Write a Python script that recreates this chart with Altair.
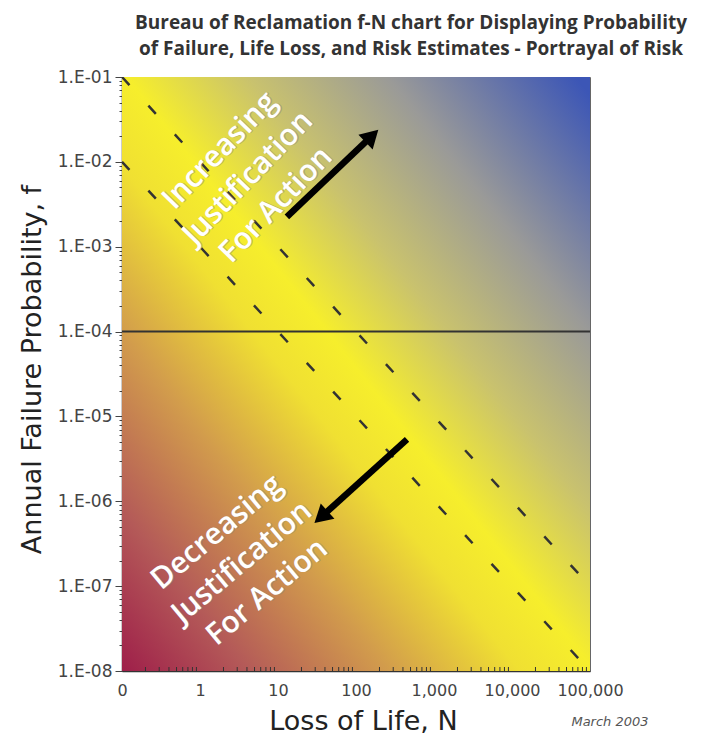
import altair as alt
import pandas as pd

# ---- data ----
x_major = [0.1, 1, 10, 100, 1000, 10000, 100000]
x_minor = [m * 10.0 ** k for k in range(-1, 5) for m in range(2, 10)]
y_ticks = [float(f"{m}e{k}") for k in range(-8, -1) for m in range(1, 10)] + [1e-1]

# f-N guideline lines (f * N = constant)
dash_N = [0.1, 100000]
dash_hi_f = [1e-1, 1e-7]
dash_lo_f = [1e-2, 1e-8]
limit_f = 1e-4

# arrows: tail -> head
arrow_up_N = [13.0, 160.0]
arrow_up_f = [2.25e-3, 2.02e-2]
arrow_dn_N = [451.0, 35.6]
arrow_dn_f = [5.37e-6, 6.5e-7]

label_up = ["Increasing", "Justification", "For Action"]
label_dn = ["Decreasing", "Justification", "For Action"]
label_up_pos = (1.80, 1.35e-2)
label_dn_pos = (1.65, 4.3e-7)

W, H = 468, 594
xs = alt.Scale(type="log", domain=[0.1, 100000], nice=False)
ys = alt.Scale(type="log", domain=[1e-8, 1e-1], nice=False)

is_decade = "abs(log(datum.value)/LN10 - round(log(datum.value)/LN10)) < 0.01"

x_axis = alt.Axis(
    values=x_major,
    labelExpr="datum.value < 0.5 ? '0' : format(datum.value, ',')",
    tickSize=0, domainColor="#333", domainWidth=1.5,
    labelFont="DejaVu Sans", labelFontSize=16, labelColor="#444",
    labelPadding=11, grid=False, labelFlush=False,
    title="Loss of Life, N", titleFont="DejaVu Sans", titleFontSize=27,
    titleFontWeight="normal", titleColor="#222",
    titleX=241, titleY=50, titleBaseline="middle", titleAlign="center",
)
y_axis = alt.Axis(
    values=y_ticks,
    labelExpr=f"{is_decade} ? '1.E-0' + (-round(log(datum.value)/LN10)) : ''",
    tickSize={"condition": {"test": is_decade, "value": 7}, "value": 3},
    tickColor="#444", domainColor="#333", domainWidth=1.5,
    labelFont="DejaVu Sans", labelFontSize=17, labelColor="#444",
    labelPadding=3, grid=False, labelOverlap=False, labelFlush=False,
    title="Annual Failure Probability, f", titleFont="DejaVu Sans", titleFontSize=27,
    titleFontWeight="normal", titleColor="#222",
    titleX=-90, titleY=292, titleBaseline="middle", titleAlign="center", titleAngle=270,
)

X = alt.X("N:Q", scale=xs, axis=x_axis)
Y = alt.Y("f:Q", scale=ys, axis=y_axis)

bg_df = pd.DataFrame({"N": [0.1], "N2": [100000], "f": [1e-8], "f2": [1e-1]})
gradient = alt.Gradient(
    gradient="linear", x1=0, y1=1.03, x2=1, y2=0.03,
    stops=[
        alt.GradientStop(color="#9c1848", offset=0.0),
        alt.GradientStop(color="#b45a58", offset=0.15),
        alt.GradientStop(color="#d29c4c", offset=0.3),
        alt.GradientStop(color="#f0e032", offset=0.44),
        alt.GradientStop(color="#f6ee2c", offset=0.52),
        alt.GradientStop(color="#c9c26e", offset=0.65),
        alt.GradientStop(color="#9a9a98", offset=0.8),
        alt.GradientStop(color="#3c56b6", offset=1.0),
    ],
)
bg = alt.Chart(bg_df).mark_rect(fill=gradient).encode(x=X, x2="N2", y=Y, y2="f2")

minor_df = pd.DataFrame({"N": x_minor})
minor = alt.Chart(minor_df).mark_rule(color="#333", strokeWidth=1).encode(
    x=X, y=alt.value(H), y2=alt.value(H - 4)
)

dash_df = pd.DataFrame({
    "N": dash_N + dash_N,
    "f": dash_hi_f + dash_lo_f,
    "line": ["hi", "hi", "lo", "lo"],
})
dashes = alt.Chart(dash_df).mark_line(
    color="#333", strokeWidth=2.5, strokeDash=[11, 28], clip=True
).encode(x=X, y=Y, detail="line:N")

hline = alt.Chart(pd.DataFrame({"f": [limit_f]})).mark_rule(color="#333", strokeWidth=2).encode(y=Y)

arr_df = pd.DataFrame({
    "N": arrow_up_N + arrow_dn_N,
    "f": arrow_up_f + arrow_dn_f,
    "arrow": ["up", "up", "dn", "dn"],
})
shafts = alt.Chart(arr_df).mark_line(color="black", strokeWidth=6.5, strokeCap="butt").encode(
    x=X, y=Y, detail="arrow:N"
)
head_up = alt.Chart(pd.DataFrame({"N": [arrow_up_N[1]], "f": [arrow_up_f[1]]})).mark_point(
    shape="triangle-up", filled=True, color="black", opacity=1, size=420, angle=46
).encode(x=X, y=Y)
head_dn = alt.Chart(pd.DataFrame({"N": [arrow_dn_N[1]], "f": [arrow_dn_f[1]]})).mark_point(
    shape="triangle-up", filled=True, color="black", opacity=1, size=420, angle=228
).encode(x=X, y=Y)


def label(pos, lines, angle, color="white", dx=0, dy=0, opacity=1.0):
    return alt.Chart(pd.DataFrame({"N": [pos[0]], "f": [pos[1]]})).mark_text(
        text=lines, angle=angle, color=color, opacity=opacity,
        font="Open Sans", fontWeight=600, fontSize=30, lineHeight=39,
        align="center", baseline="middle", dx=dx, dy=dy,
    ).encode(x=X, y=Y)


texts = (
    label(label_up_pos, label_up, 314, color="#888", dx=1, dy=1, opacity=0.5)
    + label(label_up_pos, label_up, 314)
    + label(label_dn_pos, label_dn, 320, color="#888", dx=1, dy=1, opacity=0.5)
    + label(label_dn_pos, label_dn, 320)
)

note = alt.Chart(pd.DataFrame({"t": ["March 2003"]})).mark_text(
    font="DejaVu Sans", fontSize=13, fontStyle="italic", color="#555",
    align="center", baseline="middle",
).encode(text="t:N", x=alt.value(488), y=alt.value(645))

chart = alt.layer(
    bg, minor, dashes, hline, shafts, head_up, head_dn, texts, note
).properties(
    width=W, height=H,
    title=alt.TitleParams(
        text=["Bureau of Reclamation f-N chart for Displaying Probability",
              "of Failure, Life Loss, and Risk Estimates - Portrayal of Risk"],
        font="Open Sans", fontSize=19, fontWeight="bold", color="#333",
        lineHeight=26, anchor="middle", dx=55, offset=9,
    ),
    autosize=alt.AutoSizeParams(type="none"),
    padding={"left": 114, "top": 69, "right": 105, "bottom": 67},
).configure_view(stroke="#666", strokeWidth=1)

chart.save("out.html", embed_options={"renderer": "svg", "actions": False})
